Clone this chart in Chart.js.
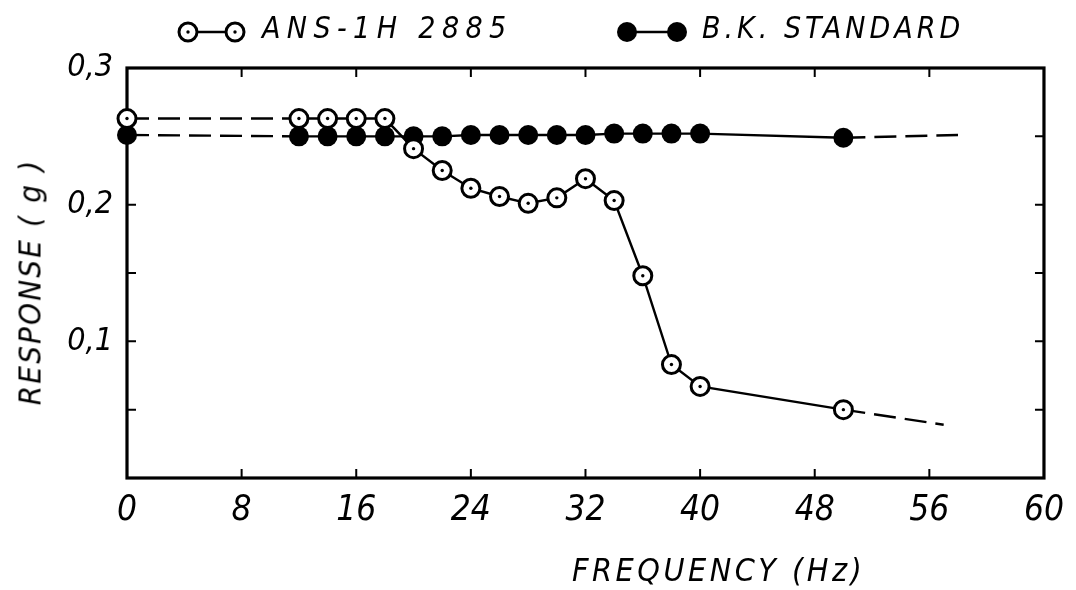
<!DOCTYPE html>
<html>
<head>
<meta charset="utf-8">
<script src="https://cdn.jsdelivr.net/npm/chart.js@4/dist/chart.umd.min.js"></script>
<style>
  html, body { margin: 0; padding: 0; background: #fff; }
  #wrap { position: relative; width: 1076px; height: 590px; overflow: hidden; }
  #c { position: absolute; left: 0; top: 0; }
  .txt { position: absolute; font-family: "DejaVu Sans Condensed", "DejaVu Sans", sans-serif; font-stretch: condensed; font-style: italic; color: #000; white-space: nowrap; line-height: 1; }
  svg.sym { position: absolute; overflow: visible; }
</style>
</head>
<body>
<div id="wrap">
  <canvas id="c" width="1076" height="590"></canvas>
  <svg class="sym" style="left:0;top:0" width="1076" height="60">
    <line x1="188" y1="32" x2="235" y2="32" stroke="#000" stroke-width="2.4"/>
    <circle cx="188" cy="32" r="9" fill="#fff" stroke="#000" stroke-width="3"/>
    <circle cx="188" cy="32" r="1.7" fill="#000"/>
    <circle cx="235" cy="32" r="9" fill="#fff" stroke="#000" stroke-width="3"/>
    <circle cx="235" cy="32" r="1.7" fill="#000"/>
    <line x1="627" y1="32" x2="677" y2="32" stroke="#000" stroke-width="2.4"/>
    <circle cx="627" cy="32" r="10" fill="#000"/>
    <circle cx="677" cy="32" r="10" fill="#000"/>
  </svg>
  <div class="txt" id="leg1" style="left:262px;top:13px;font-size:30px;letter-spacing:6.4px;">ANS-1H 2885</div>
  <div class="txt" id="leg2" style="left:702px;top:13px;font-size:30px;letter-spacing:4px;">B.K. STANDARD</div>
  <div class="txt" id="xt" style="left:572px;top:554px;font-size:32px;letter-spacing:3.5px;">FREQUENCY (Hz)</div>
  <div class="txt" id="yt" style="left:30px;top:282px;font-size:31px;letter-spacing:2.2px;transform:translate(-50%,-50%) rotate(-90deg);transform-origin:center;">RESPONSE ( g )</div>
</div>
<script>
// ---- data ----
const ansX = [0, 12, 14, 16, 18, 20, 22, 24, 26, 28, 30, 32, 34, 36, 38, 40, 50];
const ansY = [0.263, 0.263, 0.263, 0.263, 0.263, 0.241, 0.225, 0.212, 0.206, 0.201, 0.205, 0.219, 0.203, 0.148, 0.083, 0.067, 0.050];
const ansTrendEnd = [57, 0.039];

const bkX = [0, 12, 14, 16, 18, 20, 22, 24, 26, 28, 30, 32, 34, 36, 38, 40, 50];
const bkY = [0.251, 0.250, 0.250, 0.250, 0.250, 0.250, 0.250, 0.251, 0.251, 0.251, 0.251, 0.251, 0.252, 0.252, 0.252, 0.252, 0.249];
const bkTrendEnd = [58, 0.251];

const xTickValues = [0, 8, 16, 24, 32, 40, 48, 56, 64];
const xTickLabels = ['0', '8', '16', '24', '32', '40', '48', '56', '60'];
const yTickValues = [0.1, 0.2, 0.3];
const yTickLabels = ['0,1', '0,2', '0,3'];
const yMinorTicks = [0.05, 0.1, 0.15, 0.2, 0.25];
const dashFrom = 12, dashAfter = 50;

const FONT = "'DejaVu Sans Condensed', 'DejaVu Sans', sans-serif";

function series(xs, ys, end) {
  const d = xs.map((x, i) => ({ x: x, y: ys[i] }));
  if (end) d.push({ x: end[0], y: end[1], ext: true });
  return d;
}

const dashSeg = {
  borderDash: c => (c.p1.parsed.x <= dashFrom || c.p0.parsed.x >= dashAfter) ? [22, 9] : undefined
};

const framePlugin = {
  id: 'frame',
  beforeDatasetsDraw(chart) {
    const { ctx, chartArea: a, scales: { x, y } } = chart;
    ctx.save();
    ctx.strokeStyle = '#000';
    ctx.lineWidth = 2;
    const tl = 9;
    xTickValues.slice(1, -1).forEach(v => {
      const px = x.getPixelForValue(v);
      ctx.beginPath();
      ctx.moveTo(px, a.bottom); ctx.lineTo(px, a.bottom - tl);
      ctx.moveTo(px, a.top); ctx.lineTo(px, a.top + tl);
      ctx.stroke();
    });
    yMinorTicks.forEach(v => {
      const py = y.getPixelForValue(v);
      ctx.beginPath();
      ctx.moveTo(a.left, py); ctx.lineTo(a.left + tl, py);
      ctx.moveTo(a.right, py); ctx.lineTo(a.right - tl, py);
      ctx.stroke();
    });
    ctx.lineWidth = 3.2;
    ctx.strokeRect(a.left, a.top, a.right - a.left, a.bottom - a.top);
    ctx.restore();
  }
};

new Chart(document.getElementById('c'), {
  type: 'line',
  data: {
    datasets: [
      {
        label: 'dots',
        data: series(ansX, ansY),
        showLine: false,
        pointRadius: 1.7,
        pointBackgroundColor: '#000',
        pointBorderWidth: 0,
        clip: false
      },
      {
        label: 'ANS-1H 2885',
        data: series(ansX, ansY, ansTrendEnd),
        borderColor: '#000',
        borderWidth: 2.4,
        pointRadius: c => (c.raw && c.raw.ext) ? 0 : 9,
        pointBackgroundColor: '#fff',
        pointBorderColor: '#000',
        pointBorderWidth: 3,
        segment: dashSeg,
        tension: 0,
        clip: false
      },
      {
        label: 'B.K. STANDARD',
        data: series(bkX, bkY, bkTrendEnd),
        borderColor: '#000',
        borderWidth: 2.4,
        pointRadius: c => (c.raw && c.raw.ext) ? 0 : 10,
        pointBackgroundColor: '#000',
        pointBorderColor: '#000',
        pointBorderWidth: 0,
        segment: dashSeg,
        tension: 0,
        clip: false
      }
    ]
  },
  options: {
    responsive: false,
    animation: false,
    events: [],
    layout: { padding: { top: 68, right: 28, left: 0, bottom: 0 } },
    plugins: { legend: { display: false }, tooltip: { enabled: false } },
    scales: {
      x: {
        type: 'linear',
        min: 0, max: 64,
        afterBuildTicks: s => { s.ticks = xTickValues.map(v => ({ value: v })); },
        afterFit: s => { s.height = 112; },
        grid: { display: false, drawTicks: false },
        border: { display: false },
        ticks: {
          color: '#000',
          padding: 12,
          maxRotation: 0,
          autoSkip: false,
          font: { family: FONT, size: 35, style: 'italic' },
          callback: v => { const i = xTickValues.indexOf(v); return i >= 0 ? xTickLabels[i] : ''; }
        }
      },
      y: {
        type: 'linear',
        min: 0, max: 0.3,
        afterBuildTicks: s => { s.ticks = yTickValues.map(v => ({ value: v })); },
        afterFit: s => { s.width = 127; },
        grid: { display: false, drawTicks: false },
        border: { display: false },
        ticks: {
          color: '#000',
          padding: 14,
          autoSkip: false,
          font: { family: FONT, size: 32, style: 'italic' },
          callback: v => { const i = yTickValues.findIndex(t => Math.abs(t - v) < 1e-9); return i >= 0 ? yTickLabels[i] : ''; }
        }
      }
    }
  },
  plugins: [framePlugin]
});
</script>
</body>
</html>
